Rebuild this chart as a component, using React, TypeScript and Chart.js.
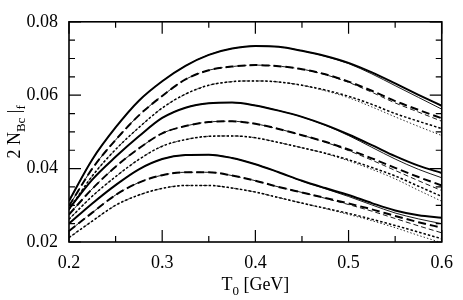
import React, { useEffect, useRef } from "react";
import { Chart, registerables } from "chart.js";

Chart.register(...registerables);

const T0 = [0.2, 0.225, 0.25, 0.275, 0.3, 0.325, 0.35, 0.375, 0.4, 0.425, 0.45, 0.475, 0.5, 0.525, 0.55, 0.575, 0.6];

const g1SolidThick = [0.0312, 0.0425, 0.0512, 0.0585, 0.0638, 0.068, 0.071, 0.0727, 0.0734, 0.0732, 0.0721, 0.0707, 0.0688, 0.0662, 0.0632, 0.0601, 0.0571];
const g1SolidThin = [0.0312, 0.0425, 0.0512, 0.0585, 0.0638, 0.068, 0.071, 0.0727, 0.0734, 0.0732, 0.0721, 0.0706, 0.0686, 0.0658, 0.0626, 0.0594, 0.0562];
const g1DashThick = [0.0298, 0.04, 0.0478, 0.0545, 0.0598, 0.0643, 0.0668, 0.0678, 0.0682, 0.0679, 0.0671, 0.0657, 0.0637, 0.0612, 0.0584, 0.056, 0.0537];
const g1DashThin = [0.0298, 0.04, 0.0478, 0.0545, 0.0598, 0.0643, 0.0668, 0.0678, 0.0682, 0.0679, 0.0671, 0.0656, 0.0635, 0.0608, 0.0579, 0.0554, 0.0529];
const g1DotThick = [0.0288, 0.038, 0.0452, 0.0512, 0.0565, 0.0603, 0.0627, 0.0637, 0.0639, 0.0636, 0.0627, 0.0614, 0.0597, 0.0575, 0.055, 0.0529, 0.0509];
const g1DotThin = [0.0288, 0.038, 0.0452, 0.0512, 0.0565, 0.0603, 0.0627, 0.0637, 0.0639, 0.0636, 0.0627, 0.0612, 0.0593, 0.0568, 0.0541, 0.0515, 0.049];

const g2SolidThick = [0.029, 0.037, 0.0432, 0.0488, 0.0538, 0.0566, 0.0578, 0.058, 0.0572, 0.0558, 0.0541, 0.0519, 0.0493, 0.0464, 0.0434, 0.0408, 0.0388];
const g2SolidThin = [0.029, 0.037, 0.0432, 0.0488, 0.0538, 0.0566, 0.0578, 0.058, 0.0572, 0.0558, 0.0541, 0.0518, 0.049, 0.0458, 0.0426, 0.0398, 0.0375];
const g2DashThick = [0.0275, 0.0345, 0.0405, 0.0455, 0.0496, 0.0516, 0.0527, 0.0529, 0.0522, 0.0508, 0.0491, 0.0473, 0.0452, 0.0428, 0.0402, 0.0377, 0.0354];
const g2DashThin = [0.0275, 0.0345, 0.0405, 0.0455, 0.0496, 0.0516, 0.0527, 0.0529, 0.0522, 0.0508, 0.0491, 0.0472, 0.0449, 0.0423, 0.0395, 0.0367, 0.034];
const g2DotThick = [0.0262, 0.0325, 0.0378, 0.0425, 0.0461, 0.0479, 0.0488, 0.0489, 0.0484, 0.0471, 0.0457, 0.0442, 0.0424, 0.0403, 0.038, 0.0352, 0.0324];
const g2DotThin = [0.0262, 0.0325, 0.0378, 0.0425, 0.0461, 0.0479, 0.0488, 0.0489, 0.0484, 0.0471, 0.0457, 0.0441, 0.0421, 0.0398, 0.0372, 0.0341, 0.0311];

const g3SolidThick = [0.025, 0.0305, 0.0355, 0.0398, 0.0426, 0.0437, 0.0438, 0.0429, 0.0412, 0.039, 0.0367, 0.0347, 0.0328, 0.0306, 0.0286, 0.0273, 0.0266];
const g3SolidThin = [0.025, 0.0305, 0.0355, 0.0398, 0.0426, 0.0437, 0.0438, 0.0429, 0.0412, 0.039, 0.0366, 0.0345, 0.0324, 0.0301, 0.0279, 0.0263, 0.025];
const g3DashThick = [0.023, 0.028, 0.0328, 0.0362, 0.0382, 0.039, 0.039, 0.0381, 0.0367, 0.035, 0.0335, 0.032, 0.0305, 0.0289, 0.0271, 0.0254, 0.0239];
const g3DashThin = [0.023, 0.028, 0.0328, 0.0362, 0.0382, 0.039, 0.039, 0.0381, 0.0367, 0.035, 0.0335, 0.0319, 0.0302, 0.0284, 0.0264, 0.0244, 0.0225];
const g3DotThick = [0.0212, 0.0257, 0.03, 0.0328, 0.0346, 0.0354, 0.0354, 0.0347, 0.0336, 0.0321, 0.0306, 0.0292, 0.0278, 0.0262, 0.0245, 0.0227, 0.0209];
const g3DotThin = [0.0212, 0.0257, 0.03, 0.0328, 0.0346, 0.0354, 0.0354, 0.0347, 0.0336, 0.0321, 0.0306, 0.0291, 0.0275, 0.0258, 0.0239, 0.0218, 0.0198];

const xMajorTicks = [0.2, 0.3, 0.4, 0.5, 0.6];
const xMinorTicks = [0.25, 0.35, 0.45, 0.55];
const yMajorTicks = [0.02, 0.04, 0.06, 0.08];
const yMinorTicks = [0.025, 0.03, 0.035, 0.045, 0.05, 0.055, 0.065, 0.07, 0.075];

const FONT = "'Liberation Serif', 'DejaVu Serif', serif";

type Style = "solidThick" | "solidThin" | "dashThick" | "dashThin" | "dotThick" | "dotThin";
const seriesList: { values: number[]; style: Style }[] = [
  { values: g1SolidThin, style: "solidThin" },
  { values: g1SolidThick, style: "solidThick" },
  { values: g1DashThin, style: "dashThin" },
  { values: g1DashThick, style: "dashThick" },
  { values: g1DotThin, style: "dotThin" },
  { values: g1DotThick, style: "dotThick" },
  { values: g2SolidThin, style: "solidThin" },
  { values: g2SolidThick, style: "solidThick" },
  { values: g2DashThin, style: "dashThin" },
  { values: g2DashThick, style: "dashThick" },
  { values: g2DotThin, style: "dotThin" },
  { values: g2DotThick, style: "dotThick" },
  { values: g3SolidThin, style: "solidThin" },
  { values: g3SolidThick, style: "solidThick" },
  { values: g3DashThin, style: "dashThin" },
  { values: g3DashThick, style: "dashThick" },
  { values: g3DotThin, style: "dotThin" },
  { values: g3DotThick, style: "dotThick" },
];

const styleMap: Record<Style, { w: number; dash: number[] }> = {
  solidThick: { w: 2, dash: [] },
  solidThin: { w: 0.9, dash: [] },
  dashThick: { w: 2, dash: [8, 4] },
  dashThin: { w: 0.9, dash: [5, 3] },
  dotThick: { w: 1.5, dash: [2.5, 2] },
  dotThin: { w: 0.8, dash: [1.5, 2] },
};

const framePlugin = {
  id: "frameTicks",
  afterDraw(chart: any) {
    const ctx = chart.ctx;
    const { left, right, top, bottom } = chart.chartArea;
    const xs = chart.scales.x;
    const ys = chart.scales.y;
    ctx.save();
    ctx.strokeStyle = "#000";
    ctx.lineWidth = 1.6;
    ctx.setLineDash([]);
    ctx.strokeRect(left, top, right - left, bottom - top);
    ctx.lineWidth = 1.2;
    const drawX = (vals: number[], len: number) => {
      vals.forEach((v) => {
        const p = xs.getPixelForValue(v);
        ctx.beginPath();
        ctx.moveTo(p, bottom);
        ctx.lineTo(p, bottom - len);
        ctx.moveTo(p, top);
        ctx.lineTo(p, top + len);
        ctx.stroke();
      });
    };
    const drawY = (vals: number[], len: number) => {
      vals.forEach((v) => {
        const p = ys.getPixelForValue(v);
        ctx.beginPath();
        ctx.moveTo(left, p);
        ctx.lineTo(left + len, p);
        ctx.moveTo(right, p);
        ctx.lineTo(right - len, p);
        ctx.stroke();
      });
    };
    drawX(xMajorTicks, 12);
    drawX(xMinorTicks, 6);
    drawY(yMajorTicks, 12);
    drawY(yMinorTicks, 6);

    ctx.fillStyle = "#000";
    ctx.textBaseline = "alphabetic";
    const big = `18px ${FONT}`;
    const small = `13px ${FONT}`;
    const cx = (left + right) / 2;
    const parts = [
      { t: "T", f: big, dy: 0 },
      { t: "0", f: small, dy: 5 },
      { t: " [GeV]", f: big, dy: 0 },
    ];
    let total = 0;
    parts.forEach((p) => {
      ctx.font = p.f;
      total += ctx.measureText(p.t).width;
    });
    let x = cx - total / 2;
    const by = 290;
    parts.forEach((p) => {
      ctx.font = p.f;
      ctx.textAlign = "left";
      ctx.fillText(p.t, x, by + p.dy);
      x += ctx.measureText(p.t).width;
    });

    const yparts = [
      { t: "2 N", f: big, dy: 0 },
      { t: "Bc", f: small, dy: 5 },
      { t: " |", f: big, dy: 0 },
      { t: "f", f: small, dy: 5 },
    ];
    let ytotal = 0;
    yparts.forEach((p) => {
      ctx.font = p.f;
      ytotal += ctx.measureText(p.t).width;
    });
    ctx.translate(20, (top + bottom) / 2);
    ctx.rotate(-Math.PI / 2);
    let yx = -ytotal / 2;
    yparts.forEach((p) => {
      ctx.font = p.f;
      ctx.textAlign = "left";
      ctx.fillText(p.t, yx, p.dy);
      yx += ctx.measureText(p.t).width;
    });
    ctx.restore();
  },
};

export default function App() {
  const ref = useRef<HTMLCanvasElement | null>(null);
  useEffect(() => {
    if (!ref.current) return;
    const datasets = seriesList.map((s) => ({
      data: T0.map((t, i) => ({ x: t, y: s.values[i] })),
      borderColor: "#000",
      borderWidth: styleMap[s.style].w,
      borderDash: styleMap[s.style].dash,
      pointRadius: 0,
      fill: false,
      cubicInterpolationMode: "monotone" as const,
    }));
    const chart = new Chart(ref.current, {
      type: "line",
      data: { datasets },
      options: {
        animation: false,
        responsive: false,
        maintainAspectRatio: false,
        layout: { padding: { top: 7, right: 12, left: 0, bottom: 0 } },
        plugins: { legend: { display: false }, tooltip: { enabled: false }, title: { display: false } },
        scales: {
          x: {
            type: "linear",
            min: 0.2,
            max: 0.6,
            afterFit: (s: any) => {
              s.height = 58;
            },
            afterBuildTicks: (s: any) => {
              s.ticks = xMajorTicks.map((v) => ({ value: v }));
            },
            ticks: {
              color: "#000",
              font: { family: FONT, size: 18 },
              padding: 10,
              maxRotation: 0,
              autoSkip: false,
              callback: (v: any) => Number(v).toFixed(1),
            },
            grid: { display: false, drawTicks: false },
            border: { display: false },
          },
          y: {
            type: "linear",
            min: 0.02,
            max: 0.08,
            afterFit: (s: any) => {
              s.width = 69;
            },
            afterBuildTicks: (s: any) => {
              s.ticks = yMajorTicks.map((v) => ({ value: v }));
            },
            ticks: {
              color: "#000",
              font: { family: FONT, size: 18 },
              padding: 11,
              autoSkip: false,
              callback: (v: any) => Number(v).toFixed(2),
            },
            grid: { display: false, drawTicks: false },
            border: { display: false },
          },
        },
      },
      plugins: [framePlugin],
    });
    return () => chart.destroy();
  }, []);
  return (
    <div style={{ position: "absolute", left: 0, top: 0, width: 463, height: 300, background: "#fff" }}>
      <canvas ref={ref} width={463} height={300} style={{ width: 463, height: 300 }} />
    </div>
  );
}
